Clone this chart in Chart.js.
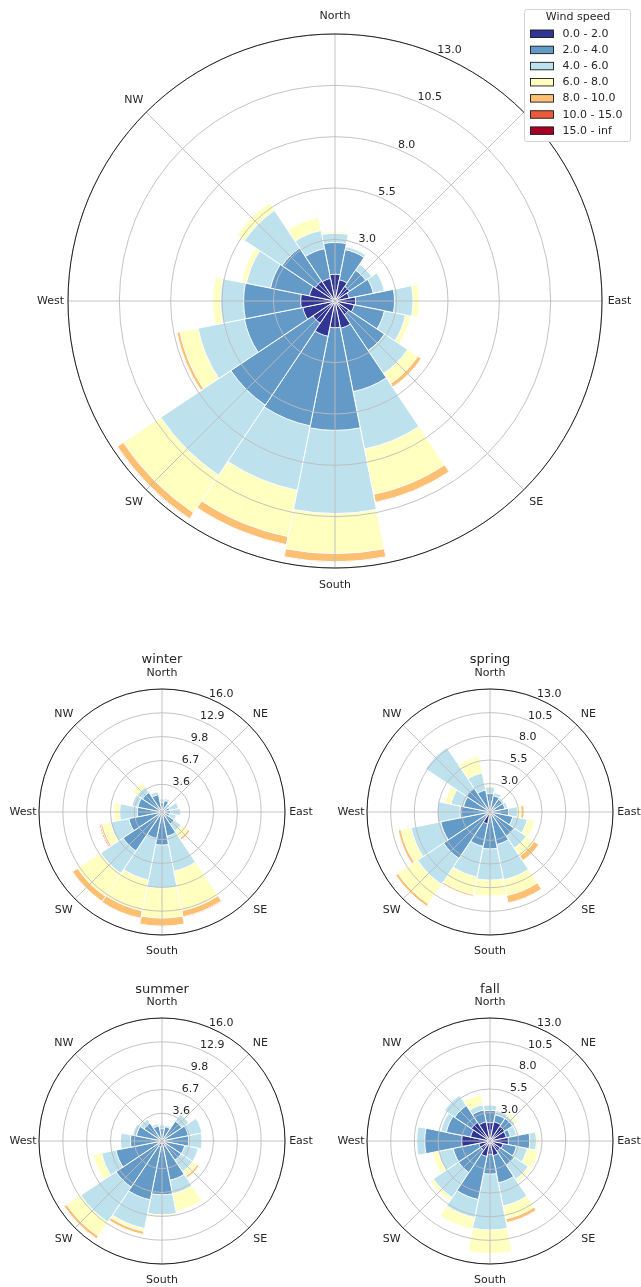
<!DOCTYPE html>
<html>
<head>
<meta charset="utf-8">
<script src="https://cdn.jsdelivr.net/npm/chart.js@4.4.1/dist/chart.umd.min.js"></script>
<style>
  html, body { margin: 0; padding: 0; background: #ffffff; }
  body { width: 641px; height: 1287px; position: relative; overflow: hidden; }
  canvas { position: absolute; }
</style>
</head>
<body>
<canvas id="roseAll" width="641" height="630" style="left:0px;top:0px"></canvas>
<canvas id="roseWinter" width="320" height="322" style="left:0px;top:640px"></canvas>
<canvas id="roseSpring" width="321" height="322" style="left:320px;top:640px"></canvas>
<canvas id="roseSummer" width="320" height="322" style="left:0px;top:965px"></canvas>
<canvas id="roseFall" width="321" height="322" style="left:320px;top:965px"></canvas>
<script>
// 16 compass sectors, clockwise from north
const DIRECTIONS = ['N','NNE','NE','ENE','E','ESE','SE','SSE','S','SSW','SW','WSW','W','WNW','NW','NNW'];
const COMPASS = ['North','NE','East','SE','South','SW','West','NW'];
const SPEED_BINS = ['0.0 - 2.0','2.0 - 4.0','4.0 - 6.0','6.0 - 8.0','8.0 - 10.0','10.0 - 15.0','15.0 - inf'];
const BIN_COLORS = ['#313695','#649ac7','#bde2ee','#ffffbf','#fdbf71','#ea593a','#a50026'];

// Frequency (%) per direction for each wind-speed bin — whole record
const all_00_02 = [1.3,1.05,0.85,0.7,1.0,0.95,0.8,1.35,1.3,1.75,1.3,1.6,1.67,1.27,1.16,1.12];
const all_02_04 = [1.55,1.5,0.95,1.2,1.9,1.5,2.1,3.15,5.0,4.45,4.8,2.9,2.78,1.93,1.94,1.48];
const all_04_06 = [0.45,0.15,0.35,0.55,0.9,1.05,1.35,2.85,4.05,3.2,4.1,2.3,1.12,1.2,2.2,0.9];
const all_06_08 = [0.1,0.05,0.05,0.05,0.3,0.25,0.6,2.25,1.95,2.3,2.2,0.9,0.38,0.25,0.45,0.65];
const all_08_10 = [0,0,0,0,0,0,0.2,0.4,0.4,0.4,0.35,0.15,0,0,0,0];
const all_10_15 = [0,0,0,0,0,0,0,0,0,0,0,0,0,0,0,0];
const all_15_up = [0,0,0,0,0,0,0,0,0,0,0,0,0,0,0,0];
const allTicks = [3.0, 5.5, 8.0, 10.5, 13.0];

// Winter
const winter_00_02 = [0.2,0.2,0.1,0.1,0.1,0.1,0.2,0.3,0.3,0.3,0.3,0.2,0.2,0.2,0.2,0.2];
const winter_02_04 = [1.0,1.3,0.7,0.9,1.0,0.9,1.7,2.9,4.0,3.2,5.8,4.2,3.0,3.0,2.85,2.1];
const winter_04_06 = [0.5,0.3,0.4,1.2,1.3,0.9,1.1,4.65,5.6,5.5,3.5,2.4,2.3,0.8,0.85,0.4];
const winter_06_08 = [0,0,0,0,0,0,1.1,5.25,3.9,4.1,3.6,1.1,0.8,0,0.7,0];
const winter_08_10 = [0,0,0,0,0,0,0.3,0.8,1.05,1.0,0.8,0.25,0,0,0,0];
const winter_10_15 = [0,0,0,0,0,0,0,0.1,0,0,0,0.15,0,0,0,0];
const winter_15_up = [0,0,0,0,0,0,0,0,0,0,0,0,0,0,0,0];
const winterTicks = [3.6, 6.7, 9.8, 12.9, 16.0];

// Spring
const spring_00_02 = [0.3,0.3,0.2,0.2,0.3,0.3,0.3,0.3,0.3,1.27,0.4,0.3,0.3,0.3,0.3,0.3];
const spring_02_04 = [1.65,1.45,1.4,1.4,1.65,2.15,2.8,3.2,3.6,2.43,5.5,5.0,2.87,2.55,2.7,2.06];
const spring_04_06 = [0.7,0.35,0.2,0.3,0.95,1.55,1.5,3.8,3.3,3.3,3.3,3.2,2.43,1.35,5.2,1.84];
const spring_06_08 = [0.15,0,0,0,0.4,0.8,1.0,1.7,1.7,1.9,2.5,1.1,0,0.7,0,1.8];
const spring_08_10 = [0,0,0,0,0.3,0,0.6,0.8,0,0.2,0.3,0.3,0,0,0,0];
const spring_10_15 = [0,0,0,0,0,0,0,0,0,0,0,0,0,0,0,0];
const spring_15_up = [0,0,0,0,0,0,0,0,0,0,0,0,0,0,0,0];
const springTicks = [3.0, 5.5, 8.0, 10.5, 13.0];

// Summer
const summer_00_02 = [0.1,0.1,0.1,0.1,0.1,0.1,0.1,0.7,0.6,0.8,0.3,0.2,0.6,0.2,0.1,0.1];
const summer_02_04 = [1.5,1.8,3.0,3.4,3.37,2.9,2.9,4.5,6.4,7.0,6.9,5.9,3.5,3.2,2.7,1.9];
const summer_04_06 = [0.5,0.2,1.1,1.8,1.73,1.8,1.8,1.8,2.6,3.8,5.5,1.9,1.3,0.5,0.6,0.3];
const summer_06_08 = [0,0,0,0,0,0,0.7,2.3,0.3,0.4,2.2,1.1,0,0,0,0];
const summer_08_10 = [0,0,0,0,0,0,0.3,0,0,0.4,0.4,0,0,0,0,0];
const summer_10_15 = [0,0,0,0,0,0,0,0,0,0,0,0,0,0,0,0];
const summer_15_up = [0,0,0,0,0,0,0,0,0,0,0,0,0,0,0,0];
const summerTicks = [3.6, 6.7, 9.8, 12.9, 16.0];

// Fall
const fall_00_02 = [1.94,2.06,1.87,1.76,1.94,1.4,1.3,1.57,1.4,1.67,1.2,1.2,3.0,2.1,2.37,2.06];
const fall_02_04 = [1.3,0.76,1.0,0.44,2.26,1.45,1.8,2.93,2.1,4.63,2.8,2.76,3.9,2.6,2.13,1.28];
const fall_04_06 = [0.56,0.48,0.33,0.67,0.7,1.15,1.76,2.5,5.9,1.95,3.2,1.59,0.85,0.6,1.3,0.56];
const fall_06_08 = [0,0,0.4,0,0.2,1.2,0.34,1.4,2.5,1.25,0.4,0.65,0,0,0,1.1];
const fall_08_10 = [0,0,0,0,0,0,0,0.4,0,0,0,0,0,0,0,0];
const fall_10_15 = [0,0,0,0,0,0,0,0,0,0,0,0,0,0,0,0];
const fall_15_up = [0,0,0,0,0,0,0,0,0,0,0,0,0,0,0,0];
const fallTicks = [3.0, 5.5, 8.0, 10.5, 13.0];

const FONT = '"DejaVu Sans", "Liberation Sans", sans-serif';

// Grid, spine, radial labels, compass labels, title and legend drawn over the bars
const roseFrame = {
  id: 'roseFrame',
  afterDatasetsDraw(chart, args, o) {
    const s = chart.scales.r;
    const ctx = chart.ctx;
    const cx = s.xCenter, cy = s.yCenter, R = s.drawingArea;
    ctx.save();
    ctx.strokeStyle = '#bcbcbc';
    ctx.lineWidth = 0.9;
    o.ticks.forEach(v => {
      ctx.beginPath();
      ctx.arc(cx, cy, s.getDistanceFromCenterForValue(v), 0, Math.PI * 2);
      ctx.stroke();
    });
    for (let k = 0; k < 8; k++) {
      const a = k * Math.PI / 4;
      ctx.beginPath();
      ctx.moveTo(cx, cy);
      ctx.lineTo(cx + R * Math.sin(a), cy - R * Math.cos(a));
      ctx.stroke();
    }
    ctx.strokeStyle = '#222222';
    ctx.lineWidth = 1;
    ctx.beginPath();
    ctx.arc(cx, cy, R, 0, Math.PI * 2);
    ctx.stroke();

    ctx.fillStyle = '#262626';
    ctx.font = '11px ' + FONT;
    ctx.textAlign = 'left';
    ctx.textBaseline = 'bottom';
    const ta = Math.PI / 8;
    o.ticks.forEach(v => {
      const r = s.getDistanceFromCenterForValue(v);
      ctx.fillText(v.toFixed(1), cx + r * Math.sin(ta), cy - r * Math.cos(ta) + 1);
    });

    ctx.textAlign = 'center';
    ctx.textBaseline = 'middle';
    COMPASS.forEach((name, k) => {
      if (o.skip && o.skip.indexOf(name) >= 0) return;
      const a = k * Math.PI / 4;
      const d = R + o.labelPad;
      ctx.fillText(name, cx + d * Math.sin(a), cy - d * Math.cos(a));
    });

    if (o.title) {
      ctx.font = '13px ' + FONT;
      ctx.fillText(o.title, cx, o.titleY);
    }

    if (o.legend) {
      const L = o.legend;
      ctx.fillStyle = '#ffffff';
      ctx.strokeStyle = '#d4d4d4';
      ctx.lineWidth = 1;
      ctx.beginPath();
      ctx.roundRect(L.x + 0.5, L.y + 0.5, L.w, L.h, 2);
      ctx.fill();
      ctx.stroke();
      ctx.fillStyle = '#262626';
      ctx.font = '11px ' + FONT;
      ctx.textAlign = 'center';
      ctx.fillText('Wind speed', L.x + L.w / 2 + 1, L.y + 8.5);
      ctx.textAlign = 'left';
      chart.data.datasets.forEach((ds, k) => {
        const yy = L.y + 24.5 + k * 16.15;
        ctx.fillStyle = ds.backgroundColor;
        ctx.fillRect(L.x + 6.5, yy - 3.5, 23, 7.5);
        ctx.strokeStyle = '#1a1a1a';
        ctx.lineWidth = 0.9;
        ctx.strokeRect(L.x + 6.5, yy - 3.5, 23, 7.5);
        ctx.fillStyle = '#262626';
        ctx.fillText(ds.label, L.x + 38.5, yy + 0.5);
      });
    }
    ctx.restore();
  }
};

function windRose(id, bins, cfg) {
  // each ring of the stack is drawn as a wedge reaching the cumulative frequency
  let run = DIRECTIONS.map(() => 0);
  const datasets = bins.map((bin, k) => {
    run = run.map((v, i) => v + bin[i]);
    return {
      label: SPEED_BINS[k],
      data: run.slice(),
      backgroundColor: BIN_COLORS[k],
      borderColor: '#ffffff',
      borderWidth: 1
    };
  });
  return new Chart(document.getElementById(id), {
    type: 'polarArea',
    data: { labels: DIRECTIONS, datasets },
    options: {
      responsive: false,
      animation: false,
      layout: { padding: cfg.padding },
      plugins: {
        legend: { display: false },
        tooltip: { enabled: false },
        roseFrame: {
          ticks: cfg.ticks, labelPad: cfg.labelPad, skip: cfg.skip,
          title: cfg.title, titleY: cfg.titleY, legend: cfg.legend
        }
      },
      scales: {
        r: {
          min: 0,
          max: cfg.ticks[cfg.ticks.length - 1],
          startAngle: -11.25,
          ticks: { display: false },
          grid: { display: false },
          angleLines: { display: false },
          pointLabels: { display: false }
        }
      }
    },
    plugins: [roseFrame]
  });
}

windRose('roseAll',
  [all_00_02, all_02_04, all_04_06, all_06_08, all_08_10, all_10_15, all_15_up],
  { ticks: allTicks, padding: { left: 68, top: 34, right: 39, bottom: 62 }, labelPad: 17.5,
    skip: ['NE'], legend: { x: 524, y: 9, w: 106, h: 132 } });

windRose('roseWinter',
  [winter_00_02, winter_02_04, winter_04_06, winter_06_08, winter_08_10, winter_10_15, winter_15_up],
  { ticks: winterTicks, padding: { left: 39, top: 49, right: 35, bottom: 27 }, labelPad: 16,
    title: 'winter', titleY: 20 });

windRose('roseSpring',
  [spring_00_02, spring_02_04, spring_04_06, spring_06_08, spring_08_10, spring_10_15, spring_15_up],
  { ticks: springTicks, padding: { left: 47, top: 49, right: 28, bottom: 27 }, labelPad: 16,
    title: 'spring', titleY: 20 });

windRose('roseSummer',
  [summer_00_02, summer_02_04, summer_04_06, summer_06_08, summer_08_10, summer_10_15, summer_15_up],
  { ticks: summerTicks, padding: { left: 39, top: 53, right: 35, bottom: 23 }, labelPad: 16,
    title: 'summer', titleY: 25 });

windRose('roseFall',
  [fall_00_02, fall_02_04, fall_04_06, fall_06_08, fall_08_10, fall_10_15, fall_15_up],
  { ticks: fallTicks, padding: { left: 47, top: 53, right: 28, bottom: 23 }, labelPad: 16,
    title: 'fall', titleY: 25 });
</script>
</body>
</html>
